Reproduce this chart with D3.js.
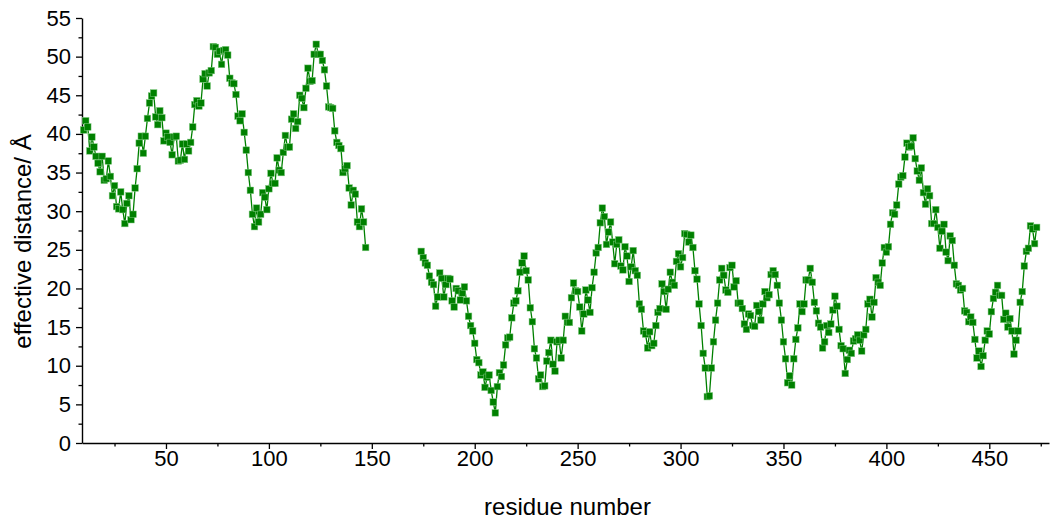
<!DOCTYPE html>
<html>
<head>
<meta charset="utf-8">
<script src="https://cdn.jsdelivr.net/npm/d3@7"></script>
<style>
  html, body { margin: 0; padding: 0; background: #fff; }
  svg { display: block; }
  text { font-family: Arial, "Liberation Sans", sans-serif; fill: #000; }
</style>
</head>
<body>
<svg id="chart" width="1050" height="521"></svg>
<script>
// Effective distance per residue; two contiguous stretches (missing residues between them)
const segmentStartA = 10;
const distancesA = [
  40.5, 41.7, 40.9, 37.8, 39.6, 38.3, 37.1, 36.2, 35.1, 37.1,
  34.0, 34.2, 36.5, 34.5, 32.0, 33.3, 30.6, 30.3, 32.5, 30.2,
  28.4, 31.0, 32.0, 28.9, 29.6, 33.0, 35.5, 38.8, 39.7, 37.5,
  39.7, 42.0, 44.0, 44.9, 45.3, 42.2, 41.2, 43.0, 42.1, 39.1,
  40.1, 39.6, 38.9, 37.3, 39.6, 39.7, 36.5, 36.6, 38.7, 36.7,
  38.7, 37.8, 38.9, 40.9, 43.8, 44.3, 43.6, 44.0, 47.1, 47.8,
  46.2, 47.9, 48.2, 51.3, 51.2, 50.3, 50.7, 49.0, 50.8, 50.9,
  50.2, 47.2, 46.6, 46.5, 45.1, 42.3, 41.7, 42.6, 40.2, 37.9,
  35.0, 32.7, 29.6, 28.0, 30.4, 28.6, 29.6, 32.4, 31.8, 30.2,
  32.9, 34.9, 33.6, 33.6, 36.9, 35.3, 35.0, 37.6, 39.8, 38.3,
  38.3, 41.9, 42.6, 40.7, 41.6, 45.0, 44.6, 43.4, 45.9, 48.5,
  46.8, 46.9, 50.3, 51.6, 50.3, 50.3, 49.5, 48.3, 46.2, 43.5,
  43.4, 43.3, 40.4, 38.9, 38.5, 38.1, 35.0, 35.5, 35.9, 33.0,
  30.8, 32.7, 32.2, 28.6, 28.0, 30.3, 28.6, 25.3
];

const segmentStartB = 174;
const distancesB = [
  24.8, 24.0, 23.3, 23.0, 21.6, 20.8,
  20.5, 17.7, 18.9, 22.0, 21.3, 18.9, 20.5, 21.3, 21.2, 18.4,
  17.6, 20.0, 19.7, 18.5, 19.4, 20.2, 18.4, 16.4, 15.2, 14.5,
  12.9, 10.8, 10.4, 8.8, 9.2, 7.2, 8.5, 8.8, 6.8, 5.3,
  3.9, 7.3, 9.1, 8.6, 10.1, 12.7, 13.6, 13.7, 16.2, 18.1,
  18.4, 19.7, 22.1, 23.3, 24.2, 22.3, 21.1, 17.5, 15.7, 12.2,
  11.0, 8.3, 8.8, 7.3, 7.4, 10.6, 11.7, 13.3, 10.2, 9.3,
  13.1, 13.3, 11.0, 13.3, 16.4, 15.6, 15.6, 18.8, 20.7, 19.7,
  19.6, 17.6, 14.5, 16.7, 19.8, 18.5, 16.9, 20.1, 22.1, 24.6,
  25.3, 28.5, 30.4, 29.3, 25.7, 27.3, 28.6, 26.0, 23.2, 25.7,
  26.3, 22.9, 22.4, 25.4, 24.2, 20.9, 22.8, 24.9, 22.3, 21.7,
  18.0, 17.3, 14.5, 14.1, 12.3, 14.4, 12.6, 12.9, 15.2, 16.9,
  17.4, 20.6, 19.6, 17.3, 19.9, 22.1, 20.8, 20.4, 23.5, 24.5,
  22.8, 24.0, 27.1, 27.0, 26.0, 26.9, 25.3, 22.3, 21.2, 18.0,
  15.2, 11.6, 9.7, 6.0, 6.1, 9.7, 13.1, 15.9, 18.1, 21.1,
  22.6, 21.7, 19.8, 19.5, 22.7, 23.0, 20.2, 21.0, 18.1, 18.1,
  17.4, 15.4, 14.7, 16.7, 16.5, 15.2, 15.1, 17.8, 17.0, 15.9,
  18.0, 19.6, 18.8, 19.2, 21.8, 22.3, 21.8, 20.4, 18.1, 15.9,
  13.1, 10.9, 7.8, 8.7, 7.5, 10.9, 13.4, 14.9, 18.0, 17.0,
  18.0, 21.1, 21.1, 22.6, 20.8, 18.2, 17.1, 15.5, 15.0, 12.3,
  13.1, 15.2, 14.3, 15.4, 17.2, 19.0, 17.7, 14.7, 12.6, 12.2,
  9.0, 10.8, 12.0, 11.6, 13.2, 13.5, 14.0, 13.3, 11.9, 14.0,
  14.7, 18.0, 18.6, 16.3, 18.2, 21.4, 20.8, 20.4, 23.3, 25.3,
  24.7, 25.4, 28.3, 29.8, 29.6, 30.8, 33.5, 34.4, 34.6, 37.0,
  38.8, 38.3, 38.4, 39.5, 36.8, 35.2, 34.0, 35.6, 32.4, 30.9,
  32.9, 32.0, 28.4, 28.4, 30.2, 27.9, 25.2, 27.4, 28.3, 24.7,
  23.6, 26.8, 26.2, 23.0, 20.6, 20.4, 19.8, 20.0, 17.1, 16.9,
  15.7, 16.3, 15.6, 13.4, 11.0, 11.9, 9.9, 11.3, 13.3, 14.5,
  14.1, 17.0, 18.7, 19.5, 20.4, 19.1, 19.1, 16.0, 16.8, 15.0,
  16.1, 14.5, 11.5, 13.3, 14.5, 18.2, 19.6, 22.9, 24.8, 25.2,
  28.1, 27.7, 25.8, 27.9
];

const xMajorTicks = [50, 100, 150, 200, 250, 300, 350, 400, 450];
const yMajorTicks = [0, 5, 10, 15, 20, 25, 30, 35, 40, 45, 50, 55];
const xTitle = "residue number";
const yTitle = "effective distance/ Å";

const segments = [
  distancesA.map((v, i) => ({ residue: segmentStartA + i, value: v })),
  distancesB.map((v, i) => ({ residue: segmentStartB + i, value: v }))
];

const plotLeft = 82, plotRight = 1049, plotTop = 18, plotBottom = 443;
const green = "#008000";

const svg = d3.select("#chart");

const x = d3.scaleLinear().domain([9.2, 479]).range([plotLeft, plotRight]);
const y = d3.scaleLinear().domain([0, 55]).range([plotBottom, plotTop]);

// minor ticks
const xMinor = d3.range(25, 479, 50);
const yMinor = d3.range(2.5, 55, 5);

const xAxisMinor = d3.axisBottom(x).tickValues(xMinor).tickSize(3.5).tickFormat("");
const yAxisMinor = d3.axisLeft(y).tickValues(yMinor).tickSize(3.5).tickFormat("");

svg.append("g").attr("transform", `translate(0,${plotBottom})`).call(xAxisMinor)
  .call(g => g.select(".domain").remove())
  .selectAll("line").attr("stroke", "#000").attr("stroke-width", 1.3);
svg.append("g").attr("transform", `translate(${plotLeft},0)`).call(yAxisMinor)
  .call(g => g.select(".domain").remove())
  .selectAll("line").attr("stroke", "#000").attr("stroke-width", 1.3);

const xAxis = d3.axisBottom(x).tickValues(xMajorTicks).tickSize(6).tickSizeOuter(0).tickPadding(1);
const yAxis = d3.axisLeft(y).tickValues(yMajorTicks).tickSize(6).tickSizeOuter(0).tickPadding(5);

const gx = svg.append("g").attr("transform", `translate(0,${plotBottom})`).call(xAxis);
const gy = svg.append("g").attr("transform", `translate(${plotLeft},0)`).call(yAxis);

[gx, gy].forEach(g => {
  g.select(".domain").attr("stroke", "#000").attr("stroke-width", 1.4);
  g.selectAll(".tick line").attr("stroke", "#000").attr("stroke-width", 1.3);
  g.selectAll(".tick text")
    .attr("font-family", "Arial, 'Liberation Sans', sans-serif")
    .attr("font-size", 22)
    .attr("fill", "#000");
});

// axis titles
svg.append("text")
  .attr("x", (plotLeft + plotRight) / 2 + 2)
  .attr("y", 515)
  .attr("text-anchor", "middle")
  .attr("font-size", 24)
  .text(xTitle);

svg.append("text")
  .attr("transform", `translate(31,${(plotTop + plotBottom) / 2 + 11}) rotate(-90)`)
  .attr("text-anchor", "middle")
  .attr("font-size", 24)
  .text(yTitle);

// connecting line
const line = d3.line()
  .x(d => x(d.residue))
  .y(d => y(d.value));

const plot = svg.append("g");

segments.forEach(seg => {
  plot.append("path")
    .datum(seg)
    .attr("fill", "none")
    .attr("stroke", green)
    .attr("stroke-width", 1.3)
    .attr("d", line);
});

// square markers
const ms = 6.6;
segments.forEach(seg => {
  plot.append("g")
    .selectAll("rect")
    .data(seg)
    .join("rect")
    .attr("x", d => x(d.residue) - ms / 2)
    .attr("y", d => y(d.value) - ms / 2)
    .attr("width", ms)
    .attr("height", ms)
    .attr("fill", green)
    .attr("stroke", "#7fc97f")
    .attr("stroke-width", 0.5);
});
</script>
</body>
</html>
